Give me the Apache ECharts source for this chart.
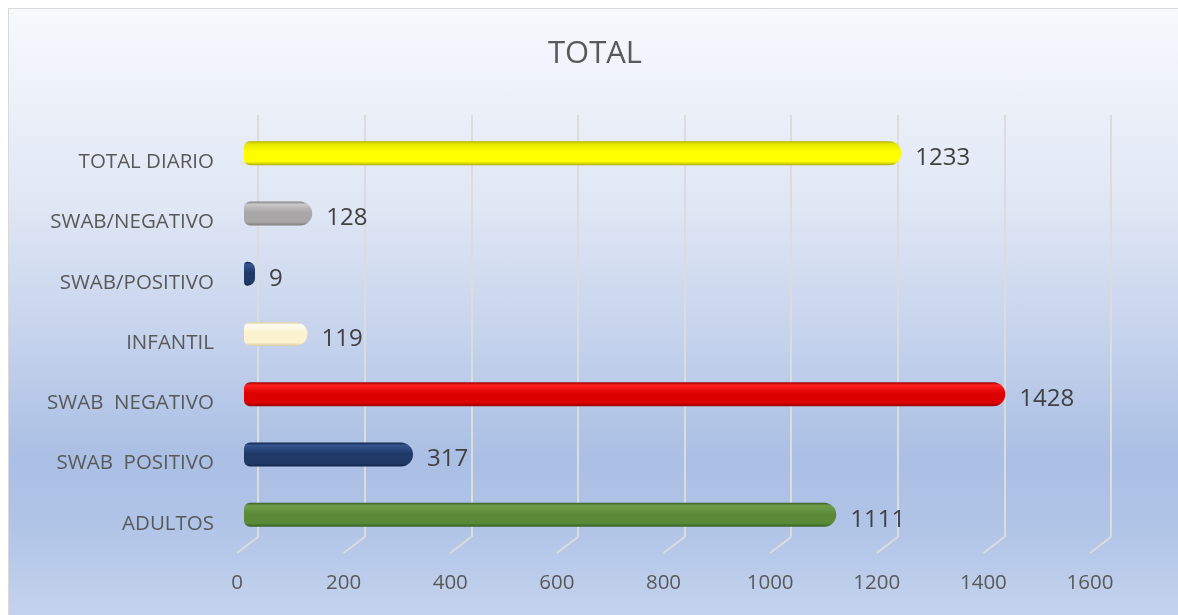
<!DOCTYPE html>
<html>
<head>
<meta charset="utf-8">
<script src="https://cdn.jsdelivr.net/npm/echarts@6/dist/echarts.min.js"></script>
<style>
  html, body { margin: 0; padding: 0; background: #fff; }
  .box {
    position: absolute; left: 8px; top: 8px; right: 0; bottom: 0;
    border-left: 1px solid #d9d9d9; border-top: 1px solid #d9d9d9;
    background: linear-gradient(to bottom, #f7f9fd 0%, #dfe6f4 33%, #c4d2ec 55%, #aabfe4 74%, #b0c4e7 85%, #c4d3ed 100%);
  }
  #chart { position: absolute; left: 0; top: 0; width: 1178px; height: 615px; }
</style>
</head>
<body>
<div class="box"></div>
<div id="chart"></div>
<script>
// categories, bottom to top
var categorias = ["ADULTOS", "SWAB  POSITIVO", "SWAB  NEGATIVO", "INFANTIL", "SWAB/POSITIVO", "SWAB/NEGATIVO", "TOTAL DIARIO"];
var valores = [1111, 317, 1428, 119, 9, 128, 1233];
var xTicks = [0, 200, 400, 600, 800, 1000, 1200, 1400, 1600];

// colour stops per bar (top light, middle, bottom dark)
var colores = [
  ["#6f9e4b", "#5a8a38", "#3b5f24"],
  ["#34548e", "#203a68", "#142748"],
  ["#ff2020", "#dc0000", "#990000"],
  ["#fffdf0", "#fbf2cf", "#d6cca6"],
  ["#34548e", "#203a68", "#142748"],
  ["#c8c8c8", "#a8a6a6", "#7f7f7f"],
  ["#e8e800", "#ffff00", "#b0b000"]
];

function grad(c) {
  return new echarts.graphic.LinearGradient(0, 0, 0, 1, [
    { offset: 0, color: c[2] },
    { offset: 0.12, color: c[0] },
    { offset: 0.45, color: c[1] },
    { offset: 0.85, color: c[1] },
    { offset: 1, color: c[2] }
  ]);
}

var datos = valores.map(function (v, i) {
  return { value: v, itemStyle: { color: grad(colores[i]) } };
});

var chart = echarts.init(document.getElementById("chart"));
var txt = "'Open Sans', 'Noto Sans', sans-serif";

chart.setOption({
  animation: false,
  backgroundColor: "transparent",
  title: {
    text: "TOTAL",
    left: 543,
    top: 34,
    textStyle: { fontFamily: txt, fontSize: 31, fontWeight: "normal", color: "#595959" }
  },
  grid: [
    { left: 244, width: 853, top: 123, height: 422 },
    { left: 258, width: 853, top: 115, height: 422 },
    { left: 237, width: 853, top: 115, height: 422 }
  ],
  xAxis: [
    { gridIndex: 0, type: "value", min: 0, max: 1600, interval: 200, show: false },
    {
      gridIndex: 1, type: "value", min: 0, max: 1600, interval: 200,
      axisLine: { show: false }, axisTick: { show: false }, axisLabel: { show: false },
      splitLine: { show: true, lineStyle: { color: "#dcdcdc", width: 2 } }
    },
    {
      gridIndex: 2, type: "value", min: 0, max: 1600, interval: 200,
      axisLine: { show: false }, axisTick: { show: false }, splitLine: { show: false },
      axisLabel: {
        margin: 36, fontFamily: txt, fontSize: 20.5, color: "#595959",
        formatter: function (v) { return String(v); }
      }
    }
  ],
  yAxis: [
    {
      gridIndex: 0, type: "category", data: categorias,
      axisLine: { show: false }, axisTick: { show: false },
      axisLabel: {
        margin: 30, verticalAlign: "top", lineHeight: 18,
        fontFamily: txt, fontSize: 20.5, color: "#595959"
      }
    },
    { gridIndex: 1, type: "value", min: 0, max: 1, show: false },
    { gridIndex: 2, type: "value", min: 0, max: 1, show: false }
  ],
  series: [
    {
      type: "bar",
      xAxisIndex: 0, yAxisIndex: 0,
      data: datos,
      barWidth: 24,
      barMinHeight: 11,
      itemStyle: { borderRadius: [6, 12, 12, 6] },
      label: {
        show: true, position: "right", distance: 14, offset: [0, 5],
        fontFamily: txt, fontSize: 24, color: "#404040"
      }
    },
    {
      // perspective feet of the grid lines
      type: "custom",
      xAxisIndex: 1, yAxisIndex: 1,
      data: xTicks,
      silent: true,
      renderItem: function (params, api) {
        var p = api.coord([api.value(0), 0]);
        return {
          type: "line",
          shape: { x1: p[0], y1: p[1], x2: p[0] - 21, y2: p[1] + 16 },
          style: { stroke: "#dcdcdc", lineWidth: 2 }
        };
      }
    }
  ]
});
</script>
</body>
</html>
